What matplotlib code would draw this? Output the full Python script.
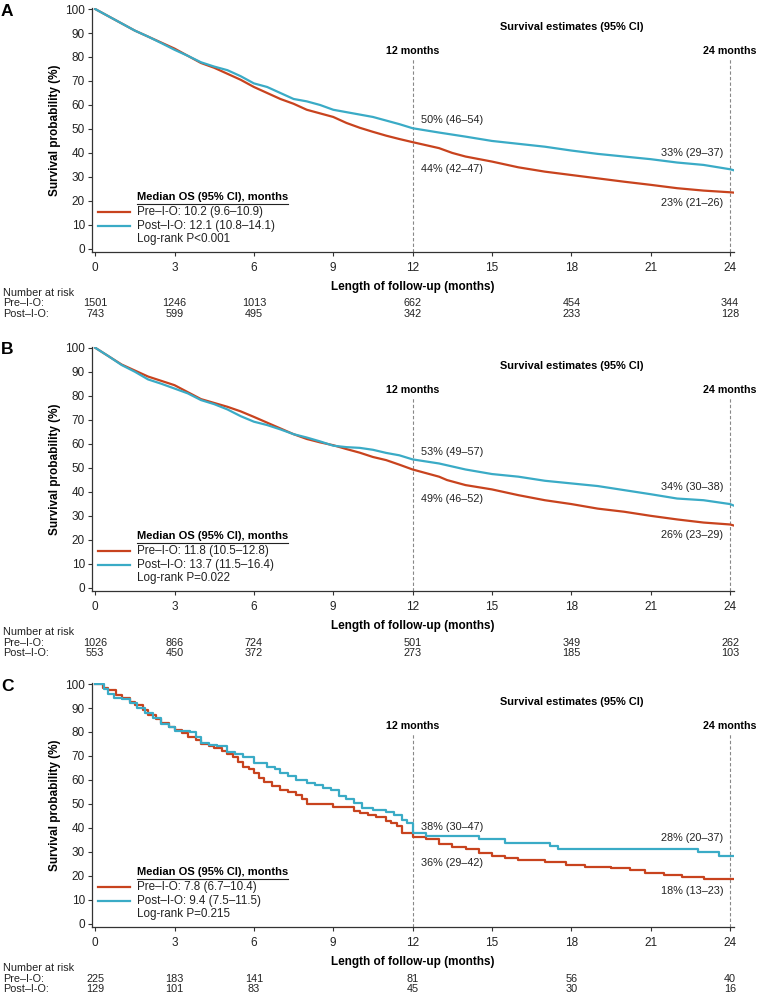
import matplotlib
matplotlib.use('Agg')
import matplotlib.pyplot as plt

plt.rcParams['font.family'] = ['Liberation Sans', 'DejaVu Sans']

RED = '#C8431E'
BLUE = '#3AABC6'

# ---- data (months, survival %) ----
a_pre_t = [0, 0.5, 1, 1.5, 2, 2.5, 3, 3.5, 4, 4.5, 5, 5.5, 6, 6.5, 7, 7.5, 8, 8.5, 9, 9.5,
           10, 10.5, 11, 11.5, 12, 13, 13.5, 14, 15, 16, 17, 18, 19, 20, 21, 22, 23, 24, 24.2]
a_pre_s = [100, 97, 94, 91, 88.5, 86, 83.5, 80.5, 77.5, 75.5, 73, 70.5, 67.5, 65, 62.5, 60.5, 58, 56.5, 55, 52.5,
           50.5, 48.8, 47.2, 45.8, 44.5, 42, 40, 38.5, 36.4, 34, 32.2, 30.8, 29.4, 28, 26.7, 25.3, 24.3, 23.6, 23.4]
a_post_t = [0, 0.5, 1, 1.5, 2, 2.5, 3, 3.5, 4, 4.5, 5, 5.5, 6, 6.5, 7, 7.5, 8, 8.5, 9, 9.5,
            10, 10.5, 11, 11.5, 12, 13, 14, 15, 16, 17, 18, 19, 20, 21, 22, 23, 24, 24.2]
a_post_s = [100, 97, 94, 91, 88.5, 85.8, 83, 80.5, 77.8, 76, 74.5, 72, 69, 67.5, 65, 62.5, 61.5, 60, 58, 57,
            56, 55, 53.5, 52, 50.3, 48.5, 46.8, 45, 43.8, 42.6, 41, 39.6, 38.5, 37.4, 36, 35, 33.2, 32.6]

b_pre_t = [0, 0.5, 1, 1.5, 2, 2.5, 3, 3.5, 4, 4.5, 5, 5.5, 6, 6.5, 7, 7.5, 8, 8.5, 9, 9.5,
           10, 10.5, 11, 11.5, 12, 13, 13.3, 14, 15, 16, 17, 18, 19, 20, 21, 22, 23, 24, 24.2]
b_pre_s = [100, 96.5, 93, 90.5, 88, 86.2, 84.4, 81.5, 78.6, 77, 75.4, 73.5, 71.2, 68.8, 66.4, 64, 62, 60.6, 59.4, 57.8,
           56.3, 54.5, 53.2, 51.3, 49.3, 46.3, 44.9, 42.8, 41, 38.6, 36.5, 34.9, 33, 31.7, 30, 28.5, 27.2, 26.4, 25.8]
b_post_t = [0, 0.5, 1, 1.5, 2, 2.5, 3, 3.5, 4, 4.5, 5, 5.5, 6, 6.5, 7, 7.5, 8, 8.5, 9, 9.5,
            10, 10.5, 11, 11.5, 12, 13, 14, 15, 16, 17, 18, 19, 20, 21, 22, 23, 24, 24.2]
b_post_s = [100, 96.5, 92.8, 90, 86.8, 85, 83, 81, 78.2, 76.5, 74.3, 71.5, 69.2, 67.8, 66, 64, 62.6, 61, 59.2, 58.6,
            58.3, 57.5, 56.2, 55.2, 53.5, 51.8, 49.3, 47.4, 46.3, 44.6, 43.5, 42.4, 40.7, 39, 37.2, 36.5, 34.9, 34]

c_pre_t = [0, 0.3, 0.5, 0.8, 1, 1.3, 1.5, 1.8, 2, 2.3, 2.5, 2.8, 3, 3.3, 3.5, 3.8, 4, 4.3, 4.5, 4.8,
           5, 5.2, 5.4, 5.6, 5.8, 6, 6.2, 6.4, 6.7, 7, 7.3, 7.6, 7.8, 8, 9, 9.8, 10, 10.3, 10.6, 11,
           11.2, 11.4, 11.6, 12, 12.5, 13, 13.5, 14, 14.5, 15, 15.5, 16, 17, 17.8, 18.5, 19.5, 20.2, 20.8, 21.5, 22.2,
           23, 24.2]
c_pre_s = [100, 98.5, 97.5, 95.5, 94, 92.5, 91.2, 89, 87, 85.5, 83.6, 82, 81, 79.5, 78, 76.5, 74.9, 74, 73.5, 72,
           71, 69.5, 67.6, 65.5, 64.5, 62.8, 61, 59.3, 57.5, 56, 55, 53.7, 52, 49.9, 48.6, 47, 46.1, 45.5, 44.7, 43,
           42, 40.6, 38, 36.4, 35.3, 33.3, 32.2, 31.1, 29.4, 28.3, 27.4, 26.7, 26, 24.6, 23.9, 23.2, 22.5, 21.1, 20.4, 19.4,
           18.8, 18.6]
c_post_t = [0, 0.35, 0.5, 0.7, 1, 1.3, 1.6, 1.9, 2.2, 2.5, 2.8, 3, 3.6, 3.8, 4, 4.3, 4.6, 5, 5.3, 5.6,
            6, 6.5, 6.8, 7, 7.3, 7.6, 8, 8.3, 8.6, 8.9, 9.2, 9.5, 9.8, 10.1, 10.5, 11, 11.3, 11.6, 11.8, 12,
            12.5, 14.5, 15.5, 17.2, 17.5, 22.8, 23.6, 24.2]
c_post_s = [100, 98, 96, 94, 93.6, 92, 90, 88, 86, 83.5, 82, 80.5, 80, 78, 75.3, 74.5, 74.2, 71.8, 71, 69.7,
            67.2, 65.6, 64.5, 63, 61.5, 60, 58.6, 58, 56.5, 55.8, 53.5, 52, 50.3, 48.5, 47.5, 46.8, 45.4, 43.5, 42, 38,
            36.7, 35.3, 33.9, 32.6, 31.2, 29.9, 28.3, 28.3]

panels = ['A', 'B', 'C']
medians = [['Pre\u2013I-O: 10.2 (9.6\u201310.9)', 'Post\u2013I-O: 12.1 (10.8\u201314.1)', 'Log-rank P<0.001'],
           ['Pre\u2013I-O: 11.8 (10.5\u201312.8)', 'Post\u2013I-O: 13.7 (11.5\u201316.4)', 'Log-rank P=0.022'],
           ['Pre\u2013I-O: 7.8 (6.7\u201310.4)', 'Post\u2013I-O: 9.4 (7.5\u201311.5)', 'Log-rank P=0.215']]
est_12 = [['50% (46\u201354)', '44% (42\u201347)'],
          ['53% (49\u201357)', '49% (46\u201352)'],
          ['38% (30\u201347)', '36% (29\u201342)']]
est_24 = [['33% (29\u201337)', '23% (21\u201326)'],
          ['34% (30\u201338)', '26% (23\u201329)'],
          ['28% (20\u201337)', '18% (13\u201323)']]
risk_months = [0, 3, 6, 12, 18, 24]
risk_pre = [[1501, 1246, 1013, 662, 454, 344],
            [1026, 866, 724, 501, 349, 262],
            [225, 183, 141, 81, 56, 40]]
risk_post = [[743, 599, 495, 342, 233, 128],
             [553, 450, 372, 273, 185, 103],
             [129, 101, 83, 45, 30, 16]]

# label heights (survival %) of the 12/24-month estimates: upper, lower
pos_12 = [(53.7, 33.3), (56.7, 36.8), (40.5, 25.3)]
pos_24 = [(40.0, 19.0), (41.8, 22.2), (36.0, 13.9)]

curves = [(a_pre_t, a_pre_s, a_post_t, a_post_s, False),
          (b_pre_t, b_pre_s, b_post_t, b_post_s, False),
          (c_pre_t, c_pre_s, c_post_t, c_post_s, True)]

W, H = 761, 993
fig = plt.figure(figsize=(W / 100, H / 100), dpi=100)

# axes boxes in pixels: (top, bottom)
boxes = [(8.3, 252), (347, 591), (683.3, 927)]
left_px, right_px = 92, 734
TXT = '#222222'

for i, (top, bot) in enumerate(boxes):
    ax = fig.add_axes([left_px / W, 1 - bot / H, (right_px - left_px) / W, (bot - top) / H])
    pre_t, pre_s, post_t, post_s, stepped = curves[i]
    ds = 'steps-post' if stepped else 'default'
    ax.plot(pre_t, pre_s, color=RED, lw=1.6, drawstyle=ds, zorder=3)
    ax.plot(post_t, post_s, color=BLUE, lw=1.6, drawstyle=ds, zorder=3)

    ax.set_xlim(-0.12, 24.15)
    ax.set_ylim(-1.3, 100.3)
    ax.set_xticks(range(0, 25, 3))
    ax.set_yticks(range(0, 101, 10))
    ax.spines['top'].set_visible(False)
    ax.spines['right'].set_visible(False)
    for s in ('left', 'bottom'):
        ax.spines[s].set_color('#333333')
        ax.spines[s].set_linewidth(0.9)
    ax.tick_params(direction='out', length=3, width=0.8, color='#333333',
                   labelsize=8.5, labelcolor=TXT)
    ax.tick_params(axis='x', pad=4)
    ax.tick_params(axis='y', pad=2)
    ax.set_ylabel('Survival probability (%)', fontsize=8.5, fontweight='bold', labelpad=3)
    ax.set_xlabel('Length of follow-up (months)', fontsize=8.5, fontweight='bold', labelpad=5)

    # reference lines at 12 and 24 months
    for m in (12, 24):
        ax.plot([m, m], [-1.3, 79], color='#888888', lw=0.8, ls=(0, (3, 2)), zorder=1)
        ax.text(m, 82.3, f'{m} months', ha='center', va='center', fontsize=7.7, fontweight='bold')
    ax.text(18, 92.5, 'Survival estimates (95% CI)', ha='center', va='center',
            fontsize=7.9, fontweight='bold')

    up12, lo12 = pos_12[i]
    ax.text(12.3, up12, est_12[i][0], ha='left', va='center', fontsize=7.8, color=TXT)
    ax.text(12.3, lo12, est_12[i][1], ha='left', va='center', fontsize=7.8, color=TXT)
    up24, lo24 = pos_24[i]
    ax.text(23.75, up24, est_24[i][0], ha='right', va='center', fontsize=7.8, color=TXT)
    ax.text(23.75, lo24, est_24[i][1], ha='right', va='center', fontsize=7.8, color=TXT)

    # legend block
    ax.text(1.6, 21.8, 'Median OS (95% CI), months', ha='left', va='center',
            fontsize=8, fontweight='bold')
    ax.plot([1.6, 7.3], [18.8, 18.8], color=TXT, lw=0.8)
    ax.plot([0.1, 1.3], [15.2, 15.2], color=RED, lw=1.6)
    ax.plot([0.1, 1.3], [9.6, 9.6], color=BLUE, lw=1.6)
    ax.text(1.6, 15.2, medians[i][0], ha='left', va='center', fontsize=8.4, color=TXT)
    ax.text(1.6, 9.6, medians[i][1], ha='left', va='center', fontsize=8.4, color=TXT)
    ax.text(1.6, 4.2, medians[i][2], ha='left', va='center', fontsize=8.4, color=TXT)

    # panel letter
    fig.text(1 / W, 1 - (top + 3) / H, panels[i], ha='left', va='center',
             fontsize=12.5, fontweight='bold')

    # number at risk table
    y0 = bot + 41
    fig.text(3 / W, 1 - y0 / H, 'Number at risk', ha='left', va='center', fontsize=7.8, color=TXT)
    fig.text(3 / W, 1 - (y0 + 10.5) / H, 'Pre\u2013I-O:', ha='left', va='center', fontsize=7.8, color=TXT)
    fig.text(3 / W, 1 - (y0 + 21) / H, 'Post\u2013I-O:', ha='left', va='center', fontsize=7.8, color=TXT)
    for m, npre, npost in zip(risk_months, risk_pre[i], risk_post[i]):
        xf = ax.transData.transform((m, 0))[0] / W
        fig.text(xf, 1 - (y0 + 10.5) / H, str(npre), ha='center', va='center', fontsize=7.8, color=TXT)
        fig.text(xf, 1 - (y0 + 21) / H, str(npost), ha='center', va='center', fontsize=7.8, color=TXT)

fig.savefig('out.png', dpi=100, facecolor='white')
